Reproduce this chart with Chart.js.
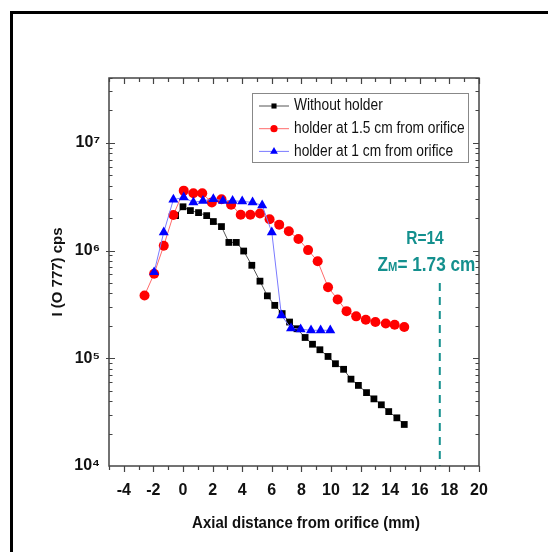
<!DOCTYPE html>
<html lang="en">

<head>
    <meta charset="UTF-8">
    <title>I (O 777) vs axial distance</title>
    <style>
        body { margin: 0; background: #fff; }
        #frame { position: absolute; left: 10px; top: 11px; width: 560px; height: 560px;
                 border-left: 3px solid #000; border-top: 3px solid #000; }
        #c { position: absolute; left: 0; top: 0; }
    </style>
</head>

<body>
    <div id="frame"></div>
    <canvas id="c" width="548" height="552"></canvas>

    <script src="https://cdn.jsdelivr.net/npm/chart.js@4/dist/chart.umd.min.js"></script>
    <script>
        // data
        const noHolderX = [-0.5, 0, 0.5, 1.05, 1.6, 2.05, 2.6, 3.1, 3.6, 4.1, 4.65, 5.2, 5.7, 6.2, 6.7, 7.2,
            7.7, 8.25, 8.75, 9.25, 9.8, 10.3, 10.85, 11.35, 11.85, 12.4, 12.9, 13.4, 13.9, 14.45, 14.95];
        const noHolderY = [2.11e6, 2.55e6, 2.35e6, 2.25e6, 2.11e6, 1.86e6, 1.67e6, 1.19e6, 1.19e6, 9.9e5, 7.3e5,
            5.2e5, 3.8e5, 3.1e5, 2.6e5, 2.17e5, 1.88e5, 1.56e5, 1.35e5, 1.2e5, 1.04e5, 8.9e4, 7.9e4, 6.4e4,
            5.6e4, 4.8e4, 4.2e4, 3.7e4, 3.2e4, 2.8e4, 2.43e4];

        const holder15X = [-2.6, -1.95, -1.3, -0.65, 0.05, 0.7, 1.3, 1.95, 2.6, 3.25, 3.9, 4.55, 5.2, 5.85,
            6.5, 7.15, 7.8, 8.45, 9.1, 9.8, 10.45, 11.05, 11.7, 12.35, 13.0, 13.7, 14.3, 14.95];
        const holder15Y = [3.83e5, 6.1e5, 1.11e6, 2.14e6, 3.6e6, 3.4e6, 3.4e6, 2.8e6, 3.0e6, 2.67e6, 2.15e6,
            2.15e6, 2.21e6, 1.95e6, 1.74e6, 1.51e6, 1.28e6, 1.01e6, 7.96e5, 4.57e5, 3.52e5, 2.74e5, 2.45e5,
            2.28e5, 2.17e5, 2.1e5, 2.05e5, 1.95e5];

        const holder1X = [-1.95, -1.3, -0.65, 0.05, 0.7, 1.35, 2.05, 2.7, 3.35, 4.0, 4.7, 5.35, 6.0, 6.65,
            7.3, 7.95, 8.65, 9.3, 9.95];
        const holder1Y = [6.3e5, 1.48e6, 2.97e6, 3.12e6, 2.8e6, 2.9e6, 3.01e6, 2.9e6, 2.9e6, 2.86e6, 2.8e6,
            2.63e6, 1.48e6, 2.5e5, 1.9e5, 1.86e5, 1.82e5, 1.82e5, 1.82e5];

        const seriesNames = ['Without holder', 'holder at 1.5 cm from orifice', 'holder at 1 cm from orifice'];

        const zmX = 17.35;            // dashed marker position
        const zmY = [5e5, 1e4];
        const noteR = 'R=14';
        const noteZ = ['Z', 'M', '= 1.73 cm'];

        const xTicks = [-4, -2, 0, 2, 4, 6, 8, 10, 12, 14, 16, 18, 20];
        const yTicks = [1e4, 1e5, 1e6, 1e7];
        const yTickLabels = ['10\u2074', '10\u2075', '10\u2076', '10\u2077'];
        const xTitle = 'Axial distance from orifice (mm)';
        const yTitle = 'I (O 777) cps';

        const teal = '#14908e';
        const sans = '"Liberation Sans", Arial, sans-serif';

        function pts(xs, ys) {
            return xs.map((x, i) => ({ x: x, y: ys[i] }));
        }

        // text squeezed sideways, the original uses a narrow face
        function narrowText(ctx, txt, x, y, sx) {
            ctx.save();
            ctx.translate(x, y);
            ctx.scale(sx, 1);
            ctx.fillText(txt, 0, 0);
            ctx.restore();
        }

        // axis frame + tick marks, drawn inward like the original plot
        const frameTicks = {
            id: 'frameTicks',
            afterDraw(chart) {
                const { ctx, chartArea: a, scales: { x, y } } = chart;
                ctx.save();
                ctx.strokeStyle = '#444';
                ctx.lineWidth = 1.5;
                ctx.strokeRect(a.left, a.top, a.right - a.left, a.bottom - a.top);
                ctx.lineWidth = 1.2;
                ctx.beginPath();
                for (let v = -5; v <= 20; v++) {
                    const px = Math.round(x.getPixelForValue(v)) + 0.5;
                    const len = v % 2 === 0 ? 6 : 4;
                    ctx.moveTo(px, a.bottom); ctx.lineTo(px, a.bottom + len);
                    ctx.moveTo(px, a.top); ctx.lineTo(px, a.top + len);
                }
                for (let d = 1e4; d <= 1e7; d *= 10) {
                    for (let m = 1; m <= 9; m++) {
                        const v = d * m;
                        if (v > 4e7 || v <= 1e4) continue;
                        const py = Math.round(y.getPixelForValue(v)) + 0.5;
                        const len = m === 1 ? 6 : 3.5;
                        ctx.moveTo(a.left, py); ctx.lineTo(a.left + len, py);
                        ctx.moveTo(a.right, py); ctx.lineTo(a.right - len, py);
                        if (m === 1) { ctx.moveTo(a.left, py); ctx.lineTo(a.left - 3, py); }
                    }
                }
                ctx.stroke();

                // x axis title, slightly right of centre as in the original
                ctx.fillStyle = '#111';
                ctx.font = 'bold 17px ' + sans;
                ctx.textBaseline = 'middle';
                const tw = ctx.measureText(xTitle).width * 0.88;
                narrowText(ctx, xTitle, 306 - tw / 2, 523, 0.88);
                ctx.restore();
            }
        };

        // framed legend with line + marker samples, and the R / Z_M note
        const boxLegend = {
            id: 'boxLegend',
            afterDraw(chart) {
                const { ctx, scales: { x, y } } = chart;
                ctx.save();
                const left = 252, top = 93, w = 216, h = 69;
                ctx.strokeStyle = '#888';
                ctx.lineWidth = 1;
                ctx.strokeRect(left + 0.5, top + 0.5, w, h);
                ctx.font = '16px ' + sans;
                ctx.textBaseline = 'middle';
                for (let i = 0; i < 3; i++) {
                    const ds = chart.data.datasets[i];
                    const cy = 106 + i * 22.7;
                    ctx.strokeStyle = ds.borderColor;
                    ctx.lineWidth = 1;
                    ctx.beginPath();
                    ctx.moveTo(259, cy); ctx.lineTo(289, cy);
                    ctx.stroke();
                    ctx.fillStyle = ds.pointBackgroundColor;
                    ctx.strokeStyle = ds.pointBackgroundColor;
                    Chart.helpers.drawPoint(ctx, { pointStyle: ds.pointStyle, radius: ds.pointStyle === 'triangle' ? 4.5 : 3.6, rotation: 0, borderWidth: 0 }, 274, cy);
                    ctx.fillStyle = '#111';
                    narrowText(ctx, ds.label, 294, cy, 0.86);
                }

                // note
                ctx.fillStyle = teal;
                ctx.textBaseline = 'alphabetic';
                ctx.font = 'bold 18px ' + sans;
                const rw = ctx.measureText(noteR).width * 0.86;
                narrowText(ctx, noteR, x.getPixelForValue(16.35) - rw / 2, y.getPixelForValue(1.3e6) + 6, 0.86);
                const big = 'bold 20px ' + sans, small = 'bold 13px ' + sans, k = 0.86;
                ctx.font = big;
                const w1 = ctx.measureText(noteZ[0]).width * k, w3 = ctx.measureText(noteZ[2]).width * k;
                ctx.font = small;
                const w2 = ctx.measureText(noteZ[1]).width * k;
                let sx = x.getPixelForValue(16.45) - (w1 + w2 + w3) / 2;
                const sy = y.getPixelForValue(7.5e5) + 7;
                ctx.font = big; narrowText(ctx, noteZ[0], sx, sy, k); sx += w1;
                ctx.font = small; narrowText(ctx, noteZ[1], sx, sy, k); sx += w2;
                ctx.font = big; narrowText(ctx, noteZ[2], sx, sy, k);
                ctx.restore();
            }
        };

        const tickFont = { family: sans, size: 16, weight: 'bold' };

        const chart = new Chart(document.getElementById('c'), {
            type: 'line',
            data: {
                datasets: [{
                    label: seriesNames[0],
                    data: pts(noHolderX, noHolderY),
                    borderColor: '#555',
                    borderWidth: 1,
                    pointStyle: 'rect',
                    pointRadius: 4.8,
                    pointBorderWidth: 0,
                    pointBackgroundColor: '#000',
                    order: 3
                }, {
                    label: seriesNames[1],
                    data: pts(holder15X, holder15Y),
                    borderColor: '#ff6a6a',
                    borderWidth: 1,
                    pointStyle: 'circle',
                    pointRadius: 5,
                    pointBorderWidth: 0,
                    pointBackgroundColor: '#ff0000',
                    order: 2
                }, {
                    label: seriesNames[2],
                    data: pts(holder1X, holder1Y),
                    borderColor: '#7a7aff',
                    borderWidth: 1,
                    pointStyle: 'triangle',
                    pointRadius: 5.8,
                    pointBorderWidth: 0,
                    pointBackgroundColor: '#0000ff',
                    order: 1
                }, {
                    label: 'zm',
                    data: pts([zmX, zmX], zmY),
                    borderColor: teal,
                    borderWidth: 2,
                    borderDash: [8, 6],
                    pointRadius: 0,
                    order: 4
                }]
            },
            options: {
                responsive: false,
                animation: false,
                layout: { padding: { left: 0, right: 69, top: 78, bottom: 0 } },
                plugins: { legend: { display: false }, tooltip: { enabled: false } },
                scales: {
                    x: {
                        type: 'linear', min: -5, max: 20,
                        grid: { display: false, drawTicks: false },
                        border: { display: false },
                        afterBuildTicks: s => { s.ticks = xTicks.map(v => ({ value: v })); },
                        afterFit: s => { s.height = 86; },
                        ticks: { font: tickFont, color: '#111', padding: 15, maxRotation: 0, autoSkip: false }
                    },
                    y: {
                        type: 'logarithmic', min: 1e4, max: 4e7,
                        grid: { display: false, drawTicks: false },
                        border: { display: false },
                        afterBuildTicks: s => { s.ticks = yTicks.map(v => ({ value: v })); },
                        afterFit: s => { s.width = 109; },
                        ticks: {
                            font: tickFont, color: '#111', padding: 9, autoSkip: false,
                            callback: v => yTickLabels[yTicks.indexOf(v)]
                        },
                        title: { display: true, text: yTitle, color: '#111', font: { family: sans, size: 15, weight: 'bold' }, padding: { top: 49, bottom: 0 } }
                    }
                }
            },
            plugins: [frameTicks, boxLegend]
        });
    </script>
</body>

</html>
